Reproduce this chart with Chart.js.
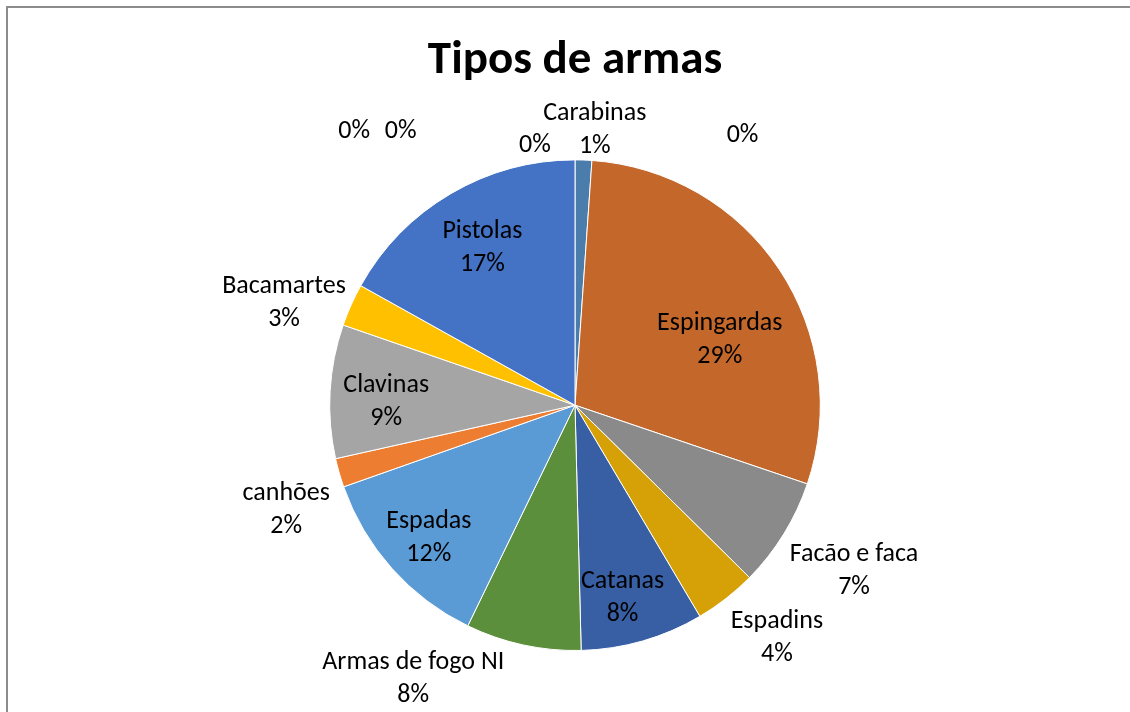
<!DOCTYPE html>
<html>
<head>
<meta charset="utf-8">
<script src="https://cdn.jsdelivr.net/npm/chart.js@4/dist/chart.umd.min.js"></script>
<style>
  html, body { margin: 0; padding: 0; overflow: hidden; background: #fff; }
  canvas { display: block; }
</style>
</head>
<body>
<canvas id="pieChart" width="1130" height="712"></canvas>
<script>
// Data
var categories = ["Carabinas", "Espingardas", "Facão e faca", "Espadins", "Catanas",
  "Armas de fogo NI", "Espadas", "canhões", "Clavinas", "Bacamartes", "Pistolas",
  "", "", "", ""];
var counts = [11, 291, 72, 41, 81, 76, 124, 19, 88, 28, 169, 0, 0, 0, 0];
var colors = ["#4a7dab", "#c4672a", "#8a8a8a", "#d5a106", "#385ea3", "#5b8f3b",
  "#5b9bd5", "#ed7d31", "#a5a5a5", "#ffc000", "#4472c4",
  "#264478", "#9e480e", "#636363", "#997300"];

// label placement: radius factor and angle shift (deg) from the slice middle
var labelRadius = [1.134, 0.65, 1.32, 1.25, 0.80, 1.29, 0.80, 1.25, 0.77, 1.26, 0.75, 1.44, 1.33, 1.08, 1.30];
var labelShift  = [2.1, 8.9, -1.2, -3.2, 2.0, 18.5, -0.1, -3.6, -1.7, -4.4, 0.2, -38.7, -32.3, -8.7, 31.7];

var FONT = "Carlito, Calibri, Lato, sans-serif";

// grey frame on the left and top, like the spreadsheet chart box
var frame = {
    id: 'frame',
    beforeDraw: function(chart) {
        var ctx = chart.ctx;
        ctx.save();
        ctx.strokeStyle = "#8c8c8c";
        ctx.lineWidth = 2;
        ctx.beginPath();
        ctx.moveTo(7, chart.height);
        ctx.lineTo(7, 7);
        ctx.lineTo(chart.width, 7);
        ctx.stroke();
        ctx.restore();
    }
};

var pieLabels = {
    id: 'pieLabels',
    afterDatasetsDraw: function(chart) {
        var ctx = chart.ctx;
        var meta = chart.getDatasetMeta(0);
        var total = counts.reduce(function(a, b) { return a + b; }, 0);
        ctx.save();
        ctx.fillStyle = "#000";
        ctx.font = "26px " + FONT;
        ctx.textAlign = "center";
        ctx.textBaseline = "middle";
        meta.data.forEach(function(arc, i) {
            var p = arc.getProps(['x', 'y', 'startAngle', 'endAngle', 'outerRadius'], true);
            var a = (p.startAngle + p.endAngle) / 2 + labelShift[i] * Math.PI / 180;
            var r = p.outerRadius * labelRadius[i];
            var cx = p.x + Math.cos(a) * r;
            var cy = p.y + Math.sin(a) * r + 2;
            var pct = Math.round(counts[i] / total * 100) + "%";
            if (categories[i]) {
                ctx.fillText(categories[i], cx, cy - 16.5);
                ctx.fillText(pct, cx, cy + 16.5);
            } else {
                ctx.fillText(pct, cx, cy);
            }
        });
        ctx.restore();
    }
};

var ctx = document.getElementById('pieChart');
var pieChart = new Chart(ctx, {
    type: 'pie',
    data: {
        labels: categories,
        datasets: [{
            data: counts,
            backgroundColor: colors,
            borderColor: "#ffffff",
            borderWidth: 1,
            hoverOffset: 0
        }]
    },
    options: {
        responsive: false,
        animation: false,
        layout: { padding: { top: 0, left: 20, right: 0, bottom: 61 } },
        plugins: {
            legend: { display: false },
            tooltip: { enabled: false },
            title: {
                display: true,
                text: "Tipos de armas",
                color: "#000",
                font: { family: FONT, size: 47, weight: 'bold', lineHeight: 1.2 },
                padding: { top: 33, bottom: 70 }
            }
        }
    },
    plugins: [frame, pieLabels]
});
</script>
</body>
</html>
